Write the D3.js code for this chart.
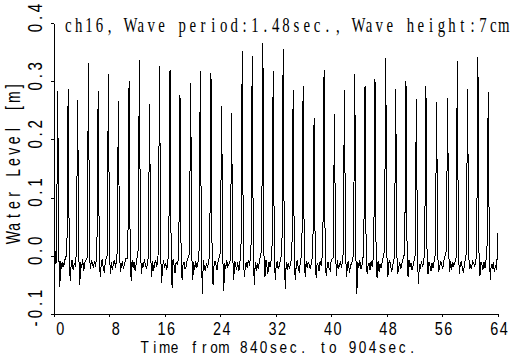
<!DOCTYPE html>
<html><head><meta charset="utf-8">
<script src="https://cdn.jsdelivr.net/npm/d3@7"></script>
<style>html,body{margin:0;padding:0;background:#fff;overflow:hidden}</style>
</head><body>
<svg id="chart" width="516" height="357"></svg>
<script>
// ---- text ----
const titleText = "ch16, Wave period:1.48sec., Wave height:7cm";
const xTitle = "Time from 840sec. to 904sec.";
const yTitle = "Water Level [m]";
const xTicks = [0, 8, 16, 24, 32, 40, 48, 56, 64];
const xTickLabels = ["0", "8", "16", "24", "32", "40", "48", "56", "64"];
const yTicks = [-0.1, 0.0, 0.1, 0.2, 0.3, 0.4];
const yTickLabels = ["-0.1", "0.0", "0.1", "0.2", "0.3", "0.4"];

// ---- data ----
// crest of each wave: time [s] and level [m]
const peakTime = [0.46,1.97,3.34,4.90,6.30,7.78,9.22,10.76,12.25,13.72,15.16,16.67,18.11,19.65,21.04,22.58,24.12,25.56,27.09,28.53,30.07,31.56,33.00,34.44,35.88,37.46,38.90,40.40,41.84,43.33,44.81,46.25,47.80,49.24,50.72,52.22,53.60,55.14,56.73,58.13,59.61,61.10,62.59];
const peakLevel = [0.284,0.287,0.268,0.332,0.284,0.313,0.266,0.302,0.337,0.261,0.327,0.320,0.277,0.298,0.318,0.315,0.258,0.246,0.352,0.344,0.366,0.318,0.356,0.285,0.292,0.238,0.320,0.244,0.285,0.313,0.292,0.305,0.340,0.288,0.301,0.270,0.292,0.265,0.272,0.335,0.288,0.342,0.282];
// deepest point just after each crest
const dipLevel = [-0.053,-0.043,-0.050,-0.021,-0.036,-0.030,-0.027,-0.042,-0.030,-0.036,-0.045,-0.055,-0.040,-0.041,-0.064,-0.050,-0.060,-0.041,-0.036,-0.050,-0.036,-0.041,-0.056,-0.041,-0.036,-0.038,-0.033,-0.033,-0.036,-0.064,-0.030,-0.038,-0.036,-0.030,-0.036,-0.047,-0.030,-0.027,-0.027,-0.030,-0.021,-0.033,-0.040];
// level at the foot of each rise
const preLevel = [-0.010,0.004,0.008,-0.002,0.010,0.002,0.006,-0.004,0.010,0.000,0.006,0.008,-0.002,0.004,0.010,0.002,0.006,-0.006,0.008,0.004,0.010,0.002,0.006,0.000,0.008,0.004,0.010,-0.002,0.006,0.002,0.008,0.004,0.010,0.000,0.006,0.002,0.008,0.004,0.010,-0.002,0.006,0.002,0.008];
// trough levels after each crest: end of fall, then the ripples of the trough
const troughLevels = [
[0.004,-0.008,-0.022,-0.010,-0.018,-0.006],
[0.002,-0.012,-0.006,-0.024,-0.012,-0.016],
[0.006,-0.010,-0.020,-0.004,-0.026,-0.010],
[-0.002,-0.006,-0.014,-0.020,-0.008,-0.018],
[0.003,-0.014,-0.004,-0.018,-0.028,-0.008],
[0.000,-0.010,-0.024,-0.012,-0.006,-0.020],
[0.005,-0.016,-0.008,-0.022,-0.014,-0.004],
[0.002,-0.006,-0.020,-0.010,-0.026,-0.012],
[0.008,-0.012,-0.018,-0.004,-0.016,-0.022],
[0.001,-0.008,-0.026,-0.014,-0.006,-0.018],
[0.004,-0.018,-0.006,-0.020,-0.012,-0.024],
[0.006,-0.004,-0.016,-0.028,-0.010,-0.014],
[0.000,-0.014,-0.010,-0.022,-0.018,-0.006],
[0.003,-0.010,-0.024,-0.008,-0.020,-0.012],
[0.007,-0.006,-0.018,-0.026,-0.012,-0.020],
[0.002,-0.016,-0.008,-0.014,-0.024,-0.008],
[0.005,-0.012,-0.022,-0.006,-0.018,-0.014],
[0.000,-0.008,-0.014,-0.024,-0.010,-0.026],
[0.004,-0.018,-0.010,-0.020,-0.006,-0.016],
[0.006,-0.010,-0.026,-0.012,-0.022,-0.008],
[0.002,-0.006,-0.016,-0.030,-0.010,-0.018],
[0.004,-0.014,-0.008,-0.022,-0.016,-0.006],
[0.008,-0.010,-0.024,-0.012,-0.020,-0.014],
[0.001,-0.016,-0.006,-0.018,-0.028,-0.010],
[0.003,-0.008,-0.020,-0.010,-0.014,-0.022],
[0.005,-0.012,-0.016,-0.026,-0.008,-0.016],
[0.000,-0.018,-0.010,-0.020,-0.024,-0.006],
[0.004,-0.006,-0.022,-0.014,-0.010,-0.020],
[0.006,-0.014,-0.008,-0.028,-0.016,-0.012],
[0.002,-0.010,-0.020,-0.006,-0.022,-0.016],
[0.007,-0.016,-0.012,-0.024,-0.008,-0.018],
[0.001,-0.008,-0.026,-0.014,-0.020,-0.010],
[0.004,-0.012,-0.006,-0.018,-0.026,-0.014],
[0.003,-0.020,-0.010,-0.022,-0.012,-0.006],
[0.006,-0.006,-0.018,-0.012,-0.024,-0.016],
[0.000,-0.014,-0.022,-0.008,-0.018,-0.010],
[0.005,-0.010,-0.016,-0.026,-0.012,-0.020],
[0.002,-0.018,-0.008,-0.014,-0.022,-0.008],
[0.004,-0.008,-0.024,-0.010,-0.016,-0.012],
[0.007,-0.012,-0.010,-0.020,-0.028,-0.014],
[0.001,-0.016,-0.020,-0.008,-0.012,-0.018],
[0.005,-0.010,-0.014,-0.024,-0.010,-0.020],
[0.003,-0.014,-0.022,-0.010,-0.026,-0.016]
];
// record start and end
const leadTime = [0.00, 0.10];
const leadLevel = [0.065, -0.012];
const tailTime = [63.80, 64.00];
const tailLevel = [-0.024, 0.040];
// sampling offsets (s) around each crest
const riseOffset = -0.18, fallOffset = 0.16, dipOffset = 0.30;
const rippleOffsets = [0.44, 0.58, 0.72, 0.88, 1.04];

// ---- build the series ----
const series = [];
leadTime.forEach((t, i) => series.push([t, leadLevel[i]]));
peakTime.forEach((p, k) => {
  series.push([p + riseOffset, preLevel[k]]);
  series.push([p, peakLevel[k]]);
  const tr = troughLevels[k];
  series.push([p + fallOffset, tr[0]]);
  series.push([p + dipOffset, dipLevel[k]]);
  rippleOffsets.forEach((o, j) => series.push([p + o, tr[j + 1]]));
});
tailTime.forEach((t, i) => series.push([t, tailLevel[i]]));

// ---- chart ----
const svg = d3.select("#chart");
svg.append("rect").attr("width", 516).attr("height", 357).attr("fill", "#fff");

const x = d3.scaleLinear().domain([0, 64]).range([54, 497.5]);
const y = d3.scaleLinear().domain([-0.1, 0.4]).range([314, 23]);

const sans = "'Liberation Sans', 'DejaVu Sans', Arial, sans-serif";
const serif = "'Liberation Serif', 'DejaVu Serif', 'Noto Serif', serif";

function mono(str, cx, cy, pitch, family, size, sx, rotate) {
  const g = svg.append("g")
    .attr("transform", `translate(${cx},${cy})` + (rotate ? " rotate(-90)" : ""));
  const n = str.length;
  const xs = Array.from(str, (c, i) => ((i - (n - 1) / 2) * pitch) / sx);
  g.append("text")
    .attr("transform", `scale(${sx},1)`)
    .attr("xml:space", "preserve")
    .style("white-space", "pre")
    .attr("x", xs.join(" "))
    .attr("y", 0)
    .attr("text-anchor", "middle")
    .attr("font-family", family)
    .attr("font-size", size)
    .attr("fill", "#000")
    .text(str);
}

// axes
const yAxis = d3.axisLeft(y).tickValues(yTicks).tickSize(3).tickSizeOuter(0).tickFormat("");
const xAxis = d3.axisBottom(x).tickValues(xTicks).tickSize(3).tickSizeOuter(0).tickFormat("");
svg.append("g").attr("transform", "translate(54,0)").call(yAxis)
  .call(g => g.selectAll("path,line").attr("stroke", "#000").attr("shape-rendering", "crispEdges"));
svg.append("g").attr("transform", "translate(0,314)").call(xAxis)
  .call(g => g.selectAll("path,line").attr("stroke", "#000").attr("shape-rendering", "crispEdges"));

// series line
const line = d3.line().x(d => x(d[0])).y(d => y(d[1]));
svg.append("path")
  .datum(series)
  .attr("transform", "translate(0.5,0.5)")
  .attr("fill", "none")
  .attr("stroke", "#000")
  .attr("stroke-width", 1)
  .attr("shape-rendering", "crispEdges")
  .attr("d", line);

// tick labels
xTicks.forEach((t, i) => {
  const lab = xTickLabels[i];
  const pitch = 9.5;
  const cx = x(t) + 1.5 + (2 - lab.length) * pitch / 2;
  mono(lab, cx, 334.5, pitch, sans, 18.5, 0.78, false);
});
yTicks.forEach((t, i) => {
  mono(yTickLabels[i], 41.5, y(t) - 5, 10, sans, 21, 0.72, true);
});

// titles
mono(titleText, 286, 32, 10.37, serif, 20, 0.74, false);
mono(xTitle, 278.4, 353.3, 9.9, sans, 17, 0.8, false);
mono(yTitle, 20, 162, 10.8, sans, 19.5, 0.72, true);
</script>
</body></html>
